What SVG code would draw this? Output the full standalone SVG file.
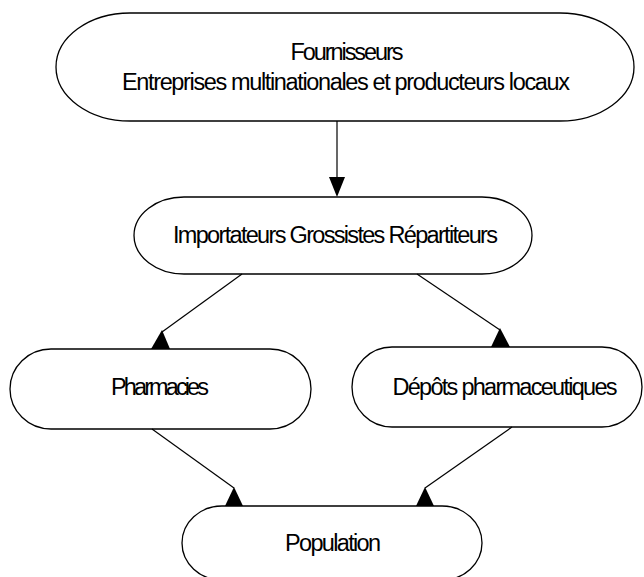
<svg xmlns="http://www.w3.org/2000/svg" width="644" height="577" viewBox="0 0 644 577">
<style>
.node{fill:#fff;stroke:#000;stroke-width:1.3}
.lbl{font-family:"Liberation Sans",Arial,sans-serif;font-size:23.5px;fill:#000;text-anchor:middle}
.edge{stroke:#000;stroke-width:1.2;fill:none}
.head{fill:#000;stroke:none}
</style>
<rect width="644" height="577" fill="#fff"/>
<g id="fournisseurs">
<path class="node" d="M130,13 H560 A74,54 0 0 1 560,121 H130 A74,54 0 0 1 130,13 Z"/>
<text class="lbl" x="347" y="60" textLength="113" lengthAdjust="spacing">Fournisseurs</text>
<text class="lbl" x="346" y="90" textLength="448" lengthAdjust="spacing">Entreprises multinationales et producteurs locaux</text>
</g>
<g id="importateurs">
<path class="node" d="M184,197 H482 A50,38.5 0 0 1 482,274 H184 A50,38.5 0 0 1 184,197 Z"/>
<text class="lbl" x="335.5" y="243" textLength="325" lengthAdjust="spacing">Importateurs Grossistes Répartiteurs</text>
</g>
<g id="pharmacies">
<path class="node" d="M51,349 H270 A41,40 0 0 1 270,429 H51 A41,40 0 0 1 51,349 Z"/>
<text class="lbl" x="160" y="395" textLength="98" lengthAdjust="spacing">Pharmacies</text>
</g>
<g id="depots">
<path class="node" d="M392,347 H602 A40,40 0 0 1 602,427 H392 A40,40 0 0 1 392,347 Z"/>
<text class="lbl" x="505" y="395" textLength="225" lengthAdjust="spacing">Dépôts pharmaceutiques</text>
</g>
<g id="population">
<path class="node" d="M222,506 H442 A40,37 0 0 1 442,580 H222 A40,37 0 0 1 222,506 Z"/>
<text class="lbl" x="333" y="551" textLength="96" lengthAdjust="spacing">Population</text>
</g>
<g id="connectors">
<line class="edge" x1="337" y1="121" x2="337" y2="180"/>
<polygon class="head" points="329,177 345,177 337,197"/>
<line class="edge" x1="242" y1="274" x2="162" y2="332"/>
<polygon class="head" points="162,330 151,349 170,349"/>
<line class="edge" x1="417" y1="274" x2="500" y2="330"/>
<polygon class="head" points="500,328 491,347 510,347"/>
<line class="edge" x1="152" y1="429" x2="234" y2="488"/>
<polygon class="head" points="234,487 225,506 243,506"/>
<line class="edge" x1="512" y1="427" x2="425" y2="488"/>
<polygon class="head" points="425,487 416,506 434,506"/>
</g>
</svg>
